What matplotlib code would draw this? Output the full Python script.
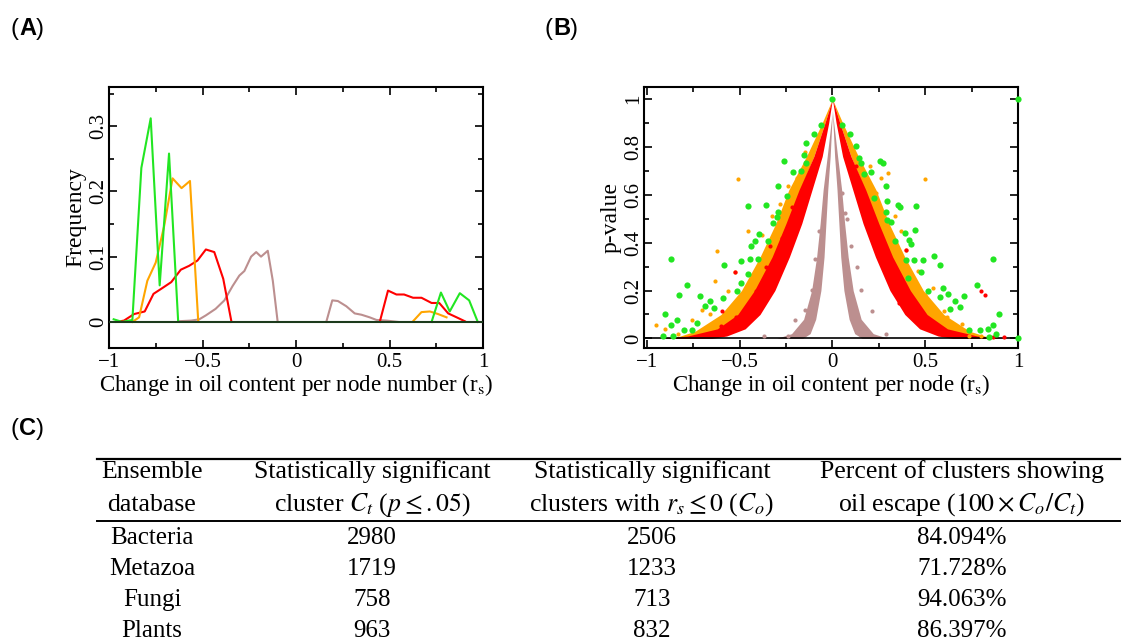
import numpy as np
import matplotlib
matplotlib.use("Agg")
import matplotlib.pyplot as plt
from matplotlib.lines import Line2D
from matplotlib.ticker import MultipleLocator

plt.rcParams['font.family'] = ['Liberation Serif', 'DejaVu Serif']
plt.rcParams['mathtext.fontset'] = 'stix'
plt.rcParams['axes.unicode_minus'] = True

nan = np.nan

# ---- panel A: frequency of r_s per database ----
green_x = [-0.975, -0.93, -0.875, -0.827, -0.777, -0.729, -0.679, -0.63, nan,
           0.725, 0.775, 0.822, 0.876, 0.926, 0.972]
green_y = [0.004, 0.0, 0.003, 0.236, 0.312, 0.056, 0.258, 0.0, nan,
           0.0, 0.045, 0.016, 0.044, 0.033, 0.0]

orange_x = [-0.875, -0.839, -0.795, -0.75, -0.705, -0.66, -0.612, -0.567, -0.523, nan,
            0.626, 0.671, 0.716, 0.76, 0.805]
orange_y = [0.0, 0.007, 0.063, 0.091, 0.147, 0.22, 0.205, 0.216, 0.002, nan,
            0.001, 0.015, 0.016, 0.012, 0.007]

red_x = [-0.96, -0.92, -0.866, -0.809, -0.762, -0.714, -0.667, -0.616, -0.571, -0.527,
         -0.482, -0.437, -0.389, -0.345, nan,
         0.448, 0.492, 0.537, 0.578, 0.626, 0.671, 0.725, 0.766, 0.814, 0.859, 0.903]
red_y = [0.0, 0.002, 0.012, 0.016, 0.043, 0.052, 0.061, 0.08, 0.086, 0.094,
         0.111, 0.107, 0.066, 0.0, nan,
         0.0, 0.048, 0.042, 0.042, 0.037, 0.037, 0.029, 0.029, 0.013, 0.007, 0.001]

brown_x = [-0.63, -0.56, -0.517, -0.482, -0.43, -0.383, -0.339, -0.303, -0.276, -0.24,
           -0.213, -0.187, -0.151, -0.124, -0.098, nan,
           0.162, 0.194, 0.224, 0.269, 0.314, 0.35, 0.394, 0.43, 0.484, 0.544]
brown_y = [0.001, 0.002, 0.004, 0.01, 0.02, 0.033, 0.055, 0.071, 0.078, 0.1,
           0.107, 0.1, 0.109, 0.063, 0.0, nan,
           0.0, 0.033, 0.032, 0.024, 0.013, 0.011, 0.007, 0.003, 0.002, 0.0]

# ---- panel B: p-value vs r_s; dense bands (one side, mirrored) ----
red_band_y = [1.0, 0.9, 0.76, 0.62, 0.48, 0.34, 0.2, 0.1, 0.04, 0.01, 0.0]
red_band_in = [0.0, 0.02, 0.055, 0.11, 0.165, 0.232, 0.31, 0.39, 0.47, 0.57, 0.65]
red_band_out = [0.0, 0.04, 0.1, 0.18, 0.25, 0.325, 0.42, 0.51, 0.62, 0.78, 0.93]

orange_band_y = [1.0, 0.9, 0.76, 0.62, 0.48, 0.34, 0.2, 0.1, 0.03, 0.0]
orange_band_in = [0.0, 0.04, 0.1, 0.175, 0.245, 0.32, 0.41, 0.5, 0.6, 0.7]
orange_band_out = [0.0, 0.055, 0.14, 0.235, 0.305, 0.39, 0.49, 0.6, 0.74, 0.86]

brown_band_y = [0.95, 0.76, 0.62, 0.48, 0.34, 0.2, 0.08, 0.02, 0.0]
brown_band_in = [0.0, 0.012, 0.025, 0.035, 0.045, 0.062, 0.09, 0.12, 0.16]
brown_band_out = [0.0, 0.028, 0.05, 0.066, 0.085, 0.112, 0.155, 0.22, 0.3]

green_pts_x = [0.0, 1.0, 1.0, -0.059, -0.1, -0.14, -0.152, -0.14, -0.26, -0.21, -0.17,
               -0.292, -0.242, -0.453, -0.358, -0.292, -0.296, -0.32, -0.396, -0.346,
               -0.418, -0.436, -0.495, -0.444, -0.403, -0.582, -0.871, -0.781, -0.824,
               -0.711, -0.686, -0.659, -0.636, -0.587, -0.516, -0.49, -0.453, -0.901,
               -0.728, -0.798, -0.839, -0.87, -0.91, -0.857, -0.758,
               0.052, 0.097, 0.129, 0.143, 0.156, 0.258, 0.272, 0.168, 0.206, 0.29,
               0.224, 0.294, 0.353, 0.362, 0.448, 0.287, 0.294, 0.317, 0.392, 0.412,
               0.425, 0.34, 0.443, 0.394, 0.437, 0.487, 0.545, 0.58, 0.867, 0.478,
               0.407, 0.514, 0.595, 0.622, 0.658, 0.708, 0.778, 0.582, 0.634, 0.69,
               0.896, 0.867, 0.738, 0.796, 0.837, 0.846, 0.881]
green_pts_y = [1.0, 1.0, 0.0, 0.892, 0.854, 0.815, 0.764, 0.734, 0.743, 0.693, 0.7,
               0.638, 0.596, 0.551, 0.558, 0.53, 0.506, 0.484, 0.437, 0.408,
               0.408, 0.385, 0.322, 0.33, 0.33, 0.306, 0.332, 0.225, 0.183,
               0.179, 0.135, 0.155, 0.127, 0.17, 0.198, 0.232, 0.27, 0.104,
               0.065, 0.035, 0.079, 0.056, 0.01, 0.01, 0.035,
               0.892, 0.854, 0.805, 0.753, 0.734, 0.742, 0.732, 0.688, 0.693, 0.638,
               0.586, 0.572, 0.558, 0.548, 0.551, 0.526, 0.496, 0.486, 0.441, 0.413,
               0.396, 0.405, 0.454, 0.329, 0.326, 0.326, 0.343, 0.306, 0.332, 0.278,
               0.253, 0.197, 0.211, 0.187, 0.156, 0.179, 0.225, 0.172, 0.123, 0.132,
               0.104, 0.054, 0.037, 0.034, 0.039, 0.005, 0.017]

orange_pts_x = [-0.507, -0.453, -0.62, -0.634, -0.756, -0.95, -0.903, -0.523, -0.327,
                -0.24, -0.146, -0.19, -0.7, -0.83, -0.38, -0.28, -0.56, -0.66,
                0.5, 0.263, 0.237, 0.335, 0.398, 0.46, 0.541, 0.604, 0.738, 0.8, 0.434,
                0.3, 0.7, 0.2, 0.37, 0.5, 0.62]
orange_pts_y = [0.665, 0.45, 0.367, 0.238, 0.079, 0.056, 0.041, 0.277, 0.51,
                0.635, 0.78, 0.67, 0.12, 0.02, 0.43, 0.56, 0.2, 0.1,
                0.666, 0.669, 0.607, 0.51, 0.371, 0.28, 0.211, 0.114, 0.01, 0.01, 0.245,
                0.69, 0.06, 0.72, 0.45, 0.18, 0.09]

red_pts_x = [-0.523, -0.594, -0.337, -0.49, -0.41, -0.6, -0.45, -0.36, -0.31, -0.27,
             -0.22, -0.52, -0.4,
             0.801, 0.82, 0.398, 0.24, 0.129, 0.192, 0.299, 0.532, 0.443, 0.864, 0.925,
             0.33, 0.26, 0.48, 0.36]
red_pts_y = [0.277, 0.114, 0.388, 0.072, 0.2, 0.05, 0.14, 0.3, 0.33, 0.42,
             0.55, 0.09, 0.16,
             0.2, 0.18, 0.371, 0.427, 0.722, 0.52, 0.268, 0.058, 0.079, 0.005, 0.005,
             0.22, 0.36, 0.1, 0.15]

brown_pts_x = [0.156, 0.215, 0.29, 0.054, 0.066, 0.102, -0.203, -0.24, -0.095, -0.37,
               -0.112, -0.15, 0.13, -0.07, 0.08]
brown_pts_y = [0.204, 0.113, 0.02, 0.607, 0.523, 0.384, 0.079, 0.01, 0.33, 0.01,
               0.204, 0.12, 0.3, 0.45, 0.5]

# ---- panel C: table ----
databases = ['Bacteria', 'Metazoa', 'Fungi', 'Plants']
clusters_ct = ['2980', '1719', '758', '963']
clusters_co = ['2506', '1233', '713', '832']
percent_escape = ['84.094%', '71.728%', '94.063%', '86.397%']

GREEN = '#22e622'
ORANGE = '#ffa500'
RED = '#ff0000'
BROWN = '#bc8f8f'

W, H = 1123, 644
fig = plt.figure(figsize=(W / 100, H / 100), dpi=100)


def fx(px):
    return px / W


def fy(py):
    return 1 - py / H


def style_axes(ax, ymaj, ymin):
    ax.xaxis.set_major_locator(MultipleLocator(0.5))
    ax.xaxis.set_minor_locator(MultipleLocator(0.25))
    ax.yaxis.set_major_locator(MultipleLocator(ymaj))
    ax.yaxis.set_minor_locator(MultipleLocator(ymin))
    ax.tick_params(which='both', direction='in', top=True, right=True, width=1.2)
    ax.tick_params(which='major', length=6, labelsize=15)
    ax.tick_params(which='minor', length=3.5)
    ax.tick_params(axis='y', labelrotation=90, pad=0.5)
    ax.xaxis.set_major_formatter(plt.FuncFormatter(lambda v, p: f'{v:g}'.replace('-', '\u2212')))
    ax.yaxis.set_major_formatter(plt.FuncFormatter(lambda v, p: f'{v:g}'))
    for lab in ax.get_yticklabels():
        lab.set_va('center')
    for s in ax.spines.values():
        s.set_linewidth(1.5)


# panel A
axA = fig.add_axes([fx(109), fy(348), fx(483) - fx(109), fy(87) - fy(348)])
axA.plot(brown_x, brown_y, color=BROWN, lw=1.5)
axA.plot(red_x, red_y, color=RED, lw=1.5)
axA.plot(orange_x, orange_y, color=ORANGE, lw=1.5)
axA.plot(green_x, green_y, color=GREEN, lw=1.5)
axA.plot([-1, 1], [0, 0], color='#1c3a1c', lw=1.5, zorder=5)
axA.set_xlim(-1, 1)
axA.set_ylim(-0.04, 0.36)
style_axes(axA, 0.1, 0.05)
axA.set_xlabel(r'Change in oil content per node number (r$_{\rm s}$)', fontsize=16.5, labelpad=0)
axA.set_ylabel('Frequency', fontsize=17)
axA.yaxis.set_label_coords(-0.06, 0.5)

# panel B
axB = fig.add_axes([fx(644), fy(348), fx(1018) - fx(644), fy(87) - fy(348)])
for side in (1, -1):
    axB.fill_betweenx(orange_band_y, np.multiply(orange_band_in, side),
                      np.multiply(orange_band_out, side), color=ORANGE, lw=0)
    axB.fill_betweenx(red_band_y, np.multiply(red_band_in, side),
                      np.multiply(red_band_out, side), color=RED, lw=0)
    axB.fill_betweenx(brown_band_y, np.multiply(brown_band_in, side),
                      np.multiply(brown_band_out, side), color=BROWN, lw=0)
axB.scatter(orange_pts_x, orange_pts_y, s=9, color=ORANGE, lw=0, zorder=3)
axB.scatter(red_pts_x, red_pts_y, s=9, color=RED, lw=0, zorder=3)
axB.scatter(brown_pts_x, brown_pts_y, s=9, color=BROWN, lw=0, zorder=3)
axB.scatter(green_pts_x, green_pts_y, s=20, color=GREEN, lw=0, zorder=4, clip_on=False)
axB.axhline(0, color='black', lw=1.2, zorder=2)
axB.set_xlim(-1.015, 1.0)
axB.set_ylim(-0.04, 1.05)
style_axes(axB, 0.2, 0.1)
axB.set_xlabel(r'Change in oil content per node (r$_{\rm s}$)', fontsize=16.5, labelpad=0)
axB.set_ylabel('p-value', fontsize=17)
axB.yaxis.set_label_coords(-0.06, 0.5)

# panel letters
for px, py, letter in [(11, 35, 'A'), (545, 35, 'B'), (11, 435, 'C')]:
    t1 = fig.text(fx(px), fy(py), '(', fontsize=17, family='Liberation Sans', va='baseline')
    t2 = axA.annotate(letter, xy=(1, 0), xycoords=t1, ha='left', va='bottom',
                      fontsize=17, family='Liberation Sans', weight='bold')
    axA.annotate(')', xy=(1, 0), xycoords=t2, ha='left', va='bottom',
                 fontsize=17, family='Liberation Sans')

# table
fig.add_artist(Line2D([fx(97), fx(1120)], [fy(459), fy(459)], color='black', lw=1.6))
fig.add_artist(Line2D([fx(97), fx(1120)], [fy(521), fy(521)], color='black', lw=1.4))

col_x = [152, 372, 652, 962]
head1 = ['Ensemble', 'Statistically significant', 'Statistically significant',
         'Percent of clusters showing']
head2 = ['database', r'cluster $C_t$ ($p \leq .05$)', r'clusters with $r_s \leq 0$ ($C_o$)',
         r'oil escape ($100 \times C_o/C_t$)']
for cx, h1, h2 in zip(col_x, head1, head2):
    fig.text(fx(cx), fy(472), h1, fontsize=18.5, ha='center', va='center')
    fig.text(fx(cx), fy(505), h2, fontsize=18.5, ha='center', va='center')

row_y = [538, 569, 600, 631]
for ry, a, b, c, d in zip(row_y, databases, clusters_ct, clusters_co, percent_escape):
    for cx, val in zip(col_x, (a, b, c, d)):
        fig.text(fx(cx), fy(ry), val, fontsize=18, ha='center', va='center')

fig.savefig('out.png', dpi=100)
